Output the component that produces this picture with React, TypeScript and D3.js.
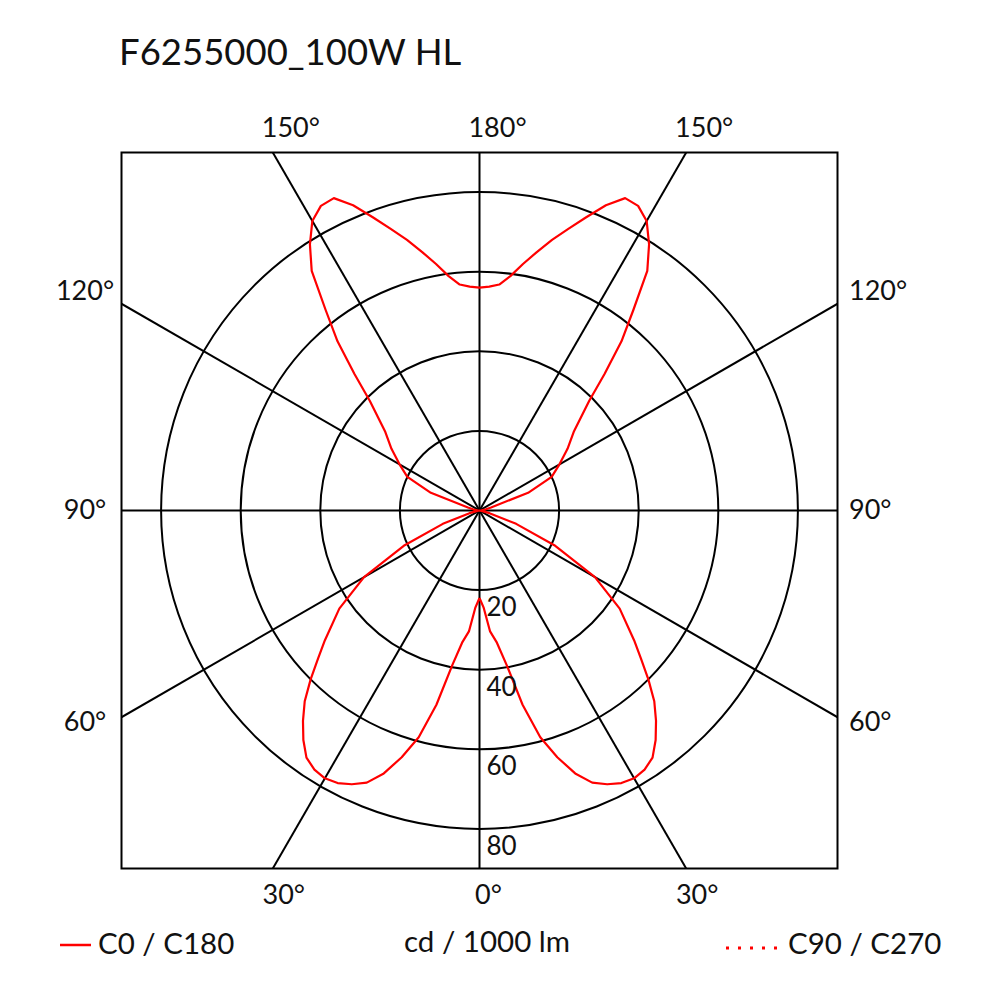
import React from "react";
import * as d3 from "d3";

const title = "F6255000_100W HL";
const gammaDeg = [0, 2.5, 5, 7.5, 10, 12.5, 15, 17.5, 20, 22.5, 25, 27.5, 30, 32.5, 35, 37.5, 40, 42.5, 45, 47.5, 50, 55, 60, 65, 70, 75, 80, 85, 90, 95, 100, 105, 110, 115, 120, 125, 130, 135, 137.5, 140, 142.5, 145, 147.5, 150, 152.5, 155, 157.5, 160, 162.5, 165, 167.5, 170, 172.5, 175, 177.5, 180];
const intensityC0C180 = [22, 24.5, 30.5, 33.5, 39.5, 50, 59, 65, 70.3, 74, 75.9, 77.2, 77.7, 77.2, 75.8, 72.7, 69, 65, 60, 55, 50.7, 43, 33.5, 21, 9.8, 2.6, 0.5, 0, 0, 0.5, 1.5, 3, 13, 20, 23.2, 27, 31, 39, 46.5, 55.5, 63.5, 73.5, 79.3, 84, 86.3, 86.6, 83, 78.4, 74.2, 70.4, 66.5, 62.9, 59.4, 57, 56.3, 56];
const ringValues = [20, 40, 60, 80];
const spokeAngles = [0, 30, 60, 90, 120, 150];
const topLabels = [{ a: 150, t: "150°" }, { a: 180, t: "180°" }, { a: 210, t: "150°" }];
const bottomLabels = [{ a: -30, t: "30°" }, { a: 0, t: "0°" }, { a: 30, t: "30°" }];
const sideLabels = [{ a: 120, t: "120°" }, { a: 90, t: "90°" }, { a: 60, t: "60°" }];
const legendC0 = "C0 / C180";
const legendC90 = "C90 / C270";
const unitLabel = "cd / 1000 lm";

const W = 981, H = 982;
const cx = 479.5, cy = 510.5, half = 358;
const FONT = "Lato, 'Open Sans', sans-serif";

export default function App() {
  const r = d3.scaleLinear().domain([0, 80]).range([0, 318.4]);
  const rad = (d: number) => (d * Math.PI) / 180;

  const pts: [number, number][] = [];
  gammaDeg.forEach((g, i) => pts.push([Math.PI - rad(g), r(intensityC0C180[i])]));
  for (let i = gammaDeg.length - 1; i >= 0; i--) pts.push([rad(gammaDeg[i]) - Math.PI, r(intensityC0C180[i])]);
  const radial = d3.lineRadial<[number, number]>().angle(d => d[0]).radius(d => d[1]).curve(d3.curveLinear);
  const path = radial(pts) || "";

  const L = 1000;
  return (
    <svg width={W} height={H} style={{ position: "absolute", left: 0, top: 0, background: "#fff" }} fontFamily={FONT}>
      <defs>
        <clipPath id="box">
          <rect x={cx - half} y={cy - half} width={half * 2} height={half * 2} />
        </clipPath>
      </defs>
      <text x={119} y={65} fontSize={36.5} fill="#111">{title}</text>

      <g clipPath="url(#box)">
        {spokeAngles.map(a => (
          <line key={a} x1={cx - L * Math.sin(rad(a))} y1={cy - L * Math.cos(rad(a))} x2={cx + L * Math.sin(rad(a))} y2={cy + L * Math.cos(rad(a))} stroke="#000" strokeWidth={2} />
        ))}
      </g>
      {ringValues.map(v => (
        <circle key={v} cx={cx} cy={cy} r={r(v)} fill="none" stroke="#000" strokeWidth={2} />
      ))}
      <rect x={cx - half} y={cy - half} width={half * 2} height={half * 2} fill="none" stroke="#000" strokeWidth={2} />

      <g transform={`translate(${cx},${cy})`}>
        <path d={path} fill="none" stroke="#ff0000" strokeWidth={2.2} strokeLinejoin="round" />
      </g>

      {ringValues.map(v => (
        <text key={v} x={cx + 7} y={cy + r(v) + 26} fontSize={26} fill="#111">{v}</text>
      ))}

      {topLabels.map((l, i) => {
        const x = cx + half * Math.tan(rad(l.a - 180));
        return <text key={i} x={x + (l.t.length === 2 ? 9 : 18)} y={137} fontSize={27} textAnchor="middle" fill="#111">{l.t}</text>;
      })}
      {bottomLabels.map((l, i) => {
        const x = cx + half * Math.tan(rad(l.a));
        return <text key={i} x={x + (l.t.length === 2 ? 9 : 11)} y={904} fontSize={27} textAnchor="middle" fill="#111">{l.t}</text>;
      })}
      {sideLabels.map((l, i) => {
        const y = cy + half / Math.tan(rad(l.a));
        const yy = l.a === 120 ? y - 14 : l.a === 90 ? y - 2 : y + 3;
        return (
          <g key={i}>
            <text x={85} y={yy} fontSize={27} textAnchor="middle" dominantBaseline="central" fill="#111">{l.t}</text>
            <text x={849} y={yy} fontSize={27} textAnchor="start" dominantBaseline="central" fill="#111">{l.t}</text>
          </g>
        );
      })}

      <line x1={60} x2={91} y1={945} y2={945} stroke="#ff0000" strokeWidth={2.5} />
      <text x={98} y={954} fontSize={29.5} fill="#111">{legendC0}</text>
      <text x={487} y={952} fontSize={29.5} textAnchor="middle" fill="#111">{unitLabel}</text>
      <line x1={726} x2={784} y1={948} y2={948} stroke="#ff0000" strokeWidth={3} strokeDasharray="3 9" />
      <text x={788} y={954} fontSize={29.5} fill="#111">{legendC90}</text>
    </svg>
  );
}
